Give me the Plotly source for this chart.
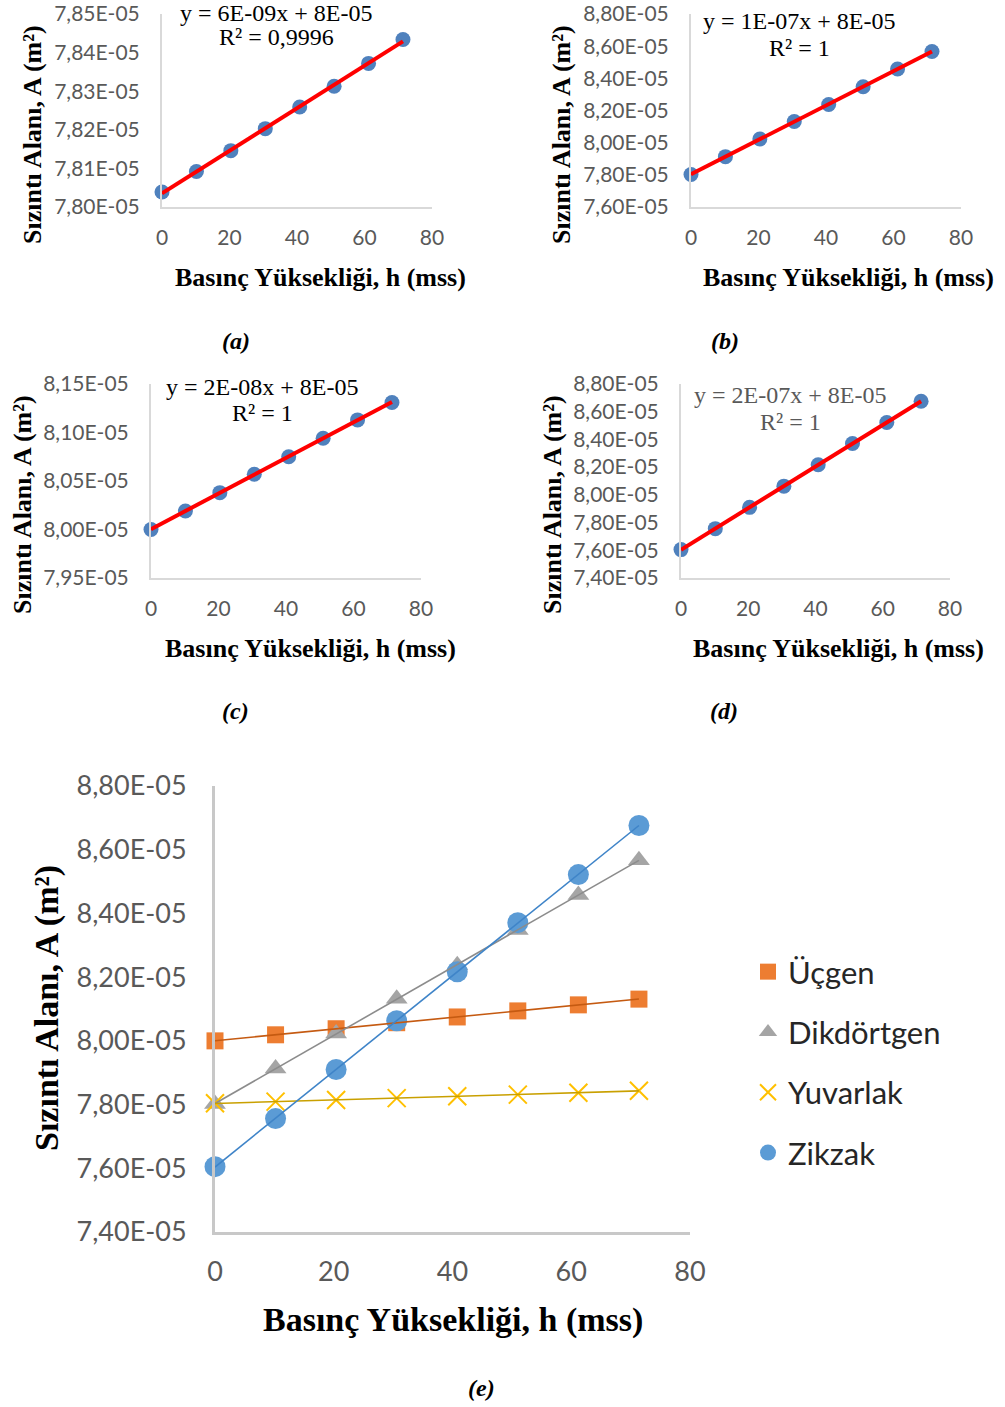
import numpy as np
import plotly.graph_objects as go

W, H = 1005, 1407

# ---------------- data ----------------
h_mss = [0, 10.2, 20.4, 30.6, 40.8, 51.0, 61.2, 71.4]
ucgen = [8.000e-5, 8.019e-5, 8.038e-5, 8.057e-5, 8.075e-5, 8.094e-5, 8.113e-5, 8.131e-5]
dikdortgen = [7.802e-5, 7.913e-5, 8.023e-5, 8.132e-5, 8.237e-5, 8.348e-5, 8.458e-5, 8.567e-5]
yuvarlak = [7.8039e-5, 7.8092e-5, 7.8146e-5, 7.8203e-5, 7.8259e-5, 7.8313e-5, 7.8372e-5, 7.8434e-5]
zikzak = [7.605e-5, 7.756e-5, 7.910e-5, 8.063e-5, 8.217e-5, 8.371e-5, 8.522e-5, 8.676e-5]

series_names = ["Üçgen", "Dikdörtgen", "Yuvarlak", "Zikzak"]

x_ticks = [0, 20, 40, 60, 80]

yt_a = [7.80e-5, 7.81e-5, 7.82e-5, 7.83e-5, 7.84e-5, 7.85e-5]
yl_a = ["7,80E-05", "7,81E-05", "7,82E-05", "7,83E-05", "7,84E-05", "7,85E-05"]
yt_b = [7.60e-5, 7.80e-5, 8.00e-5, 8.20e-5, 8.40e-5, 8.60e-5, 8.80e-5]
yl_b = ["7,60E-05", "7,80E-05", "8,00E-05", "8,20E-05", "8,40E-05", "8,60E-05", "8,80E-05"]
yt_c = [7.95e-5, 8.00e-5, 8.05e-5, 8.10e-5, 8.15e-5]
yl_c = ["7,95E-05", "8,00E-05", "8,05E-05", "8,10E-05", "8,15E-05"]
yt_d = [7.40e-5, 7.60e-5, 7.80e-5, 8.00e-5, 8.20e-5, 8.40e-5, 8.60e-5, 8.80e-5]
yl_d = ["7,40E-05", "7,60E-05", "7,80E-05", "8,00E-05", "8,20E-05", "8,40E-05", "8,60E-05", "8,80E-05"]

eq_a = ["y = 6E-09x + 8E-05", "R² = 0,9996"]
eq_b = ["y = 1E-07x + 8E-05", "R² = 1"]
eq_c = ["y = 2E-08x + 8E-05", "R² = 1"]
eq_d = ["y = 2E-07x + 8E-05", "R² = 1"]

y_title = "Sızıntı Alanı, A (m²)"
x_title = "Basınç Yüksekliği, h (mss)"

# ---------------- helpers ----------------
def px(x):
    return x / W

def py(y):
    return 1 - y / H

def fit_line(xs, ys):
    k, b = np.polyfit(xs, ys, 1)
    xe = [xs[0], xs[-1]]
    return xe, [k * v + b for v in xe]

fig = go.Figure()

AX_LINE = "#D9D9D9"
TICK_FONT = dict(family="Lato", size=21, color="#595959")
SERIF = "Liberation Serif"

small_panels = [
    (yuvarlak, 1, (162, 432), (207, 14), (7.80e-5, 7.85e-5), yt_a, yl_a, eq_a, (276, 13, 37), "#000000"),
    (dikdortgen, 2, (691, 961), (207, 14), (7.60e-5, 8.80e-5), yt_b, yl_b, eq_b, (799, 21, 48), "#000000"),
    (ucgen, 3, (151, 421), (578, 384), (7.95e-5, 8.15e-5), yt_c, yl_c, eq_c, (262, 387, 413), "#000000"),
    (zikzak, 4, (681, 950), (578, 384), (7.40e-5, 8.80e-5), yt_d, yl_d, eq_d, (790, 395, 422), "#595959"),
]

annotations = []

for data, i, (x0, x1), (yb, ytp), yr, ytv, ytl, eq, (ex, e1, e2), ecol in small_panels:
    xa = "x" if i == 1 else f"x{i}"
    ya = "y" if i == 1 else f"y{i}"
    fig.add_trace(go.Scatter(
        x=h_mss, y=data, mode="markers", xaxis=xa, yaxis=ya, showlegend=False,
        marker=dict(color="#4F81BD", size=15), cliponaxis=False,
    ))
    lx, ly = fit_line(h_mss, data)
    fig.add_trace(go.Scatter(
        x=lx, y=ly, mode="lines", xaxis=xa, yaxis=ya, showlegend=False,
        line=dict(color="#FF0000", width=4),
    ))
    xkey = "xaxis" if i == 1 else f"xaxis{i}"
    ykey = "yaxis" if i == 1 else f"yaxis{i}"
    yr_pad = (yr[1] - yr[0]) * 1e-6
    fig.update_layout(**{
        xkey: dict(domain=[px(x0), px(x1)], range=[0, 80], anchor=ya,
                   tickvals=x_ticks, ticktext=[str(v) for v in x_ticks],
                   showline=True, linecolor=AX_LINE, linewidth=2, showgrid=False,
                   zeroline=False, ticks="", tickfont=TICK_FONT, ticklabelstandoff=11,
                   automargin=False, ticklabeloverflow="allow"),
        ykey: dict(domain=[py(yb), py(ytp)], range=[yr[0], yr[1] + yr_pad], anchor=xa,
                   tickvals=ytv, ticktext=ytl,
                   showline=True, linecolor=AX_LINE, linewidth=2, showgrid=False,
                   zeroline=False, ticks="", tickfont=TICK_FONT, ticklabelstandoff=16,
                   automargin=False, ticklabeloverflow="allow"),
    })
    for txt, yy in ((eq[0], e1), (eq[1], e2)):
        annotations.append(dict(x=px(ex), y=py(yy), text=txt,
                                font=dict(family=SERIF, size=24, color=ecol)))

# ---------------- panel e ----------------
e_colors = ["#ED7D31", "#A5A5A5", "#FFC000", "#5B9BD5"]
e_line_colors = ["#C55A11", "#8C8C8C", "#C9A000", "#3F84C8"]
e_symbols = ["square", "triangle-up", "x-thin", "circle"]
e_sizes = [17, 19, 18, 21]
e_data = [ucgen, dikdortgen, yuvarlak, zikzak]

for name, d, c, s, sz in zip(series_names, e_data, e_colors, e_symbols, e_sizes):
    mk = dict(color=c, size=sz, symbol=s)
    if s == "x-thin":
        mk["line"] = dict(color=c, width=2)
    fig.add_trace(go.Scatter(
        x=h_mss, y=d, mode="markers", name=name, xaxis="x5", yaxis="y5",
        marker=mk, cliponaxis=False, legendgroup=name,
    ))
for name, d, lc in zip(series_names, e_data, e_line_colors):
    lx, ly = fit_line(h_mss, d)
    fig.add_trace(go.Scatter(
        x=lx, y=ly, mode="lines", xaxis="x5", yaxis="y5", showlegend=False,
        line=dict(color=lc, width=1.6),
    ))

TICK_FONT_E = dict(family="Lato", size=27, color="#595959")
fig.update_layout(
    xaxis5=dict(domain=[px(215), px(690)], range=[0, 80], anchor="y5",
                tickvals=x_ticks, ticktext=[str(v) for v in x_ticks],
                showline=True, linecolor="#C8C8C8", linewidth=3, showgrid=False,
                zeroline=False, ticks="", tickfont=TICK_FONT_E, ticklabelstandoff=14,
                automargin=False, ticklabeloverflow="allow"),
    yaxis5=dict(domain=[py(1232), py(786)], range=[7.40e-5, 8.80e-5 + 1e-12], anchor="x5",
                tickvals=yt_d, ticktext=yl_d,
                showline=True, linecolor="#C8C8C8", linewidth=3, showgrid=False,
                zeroline=False, ticks="", tickfont=TICK_FONT_E, ticklabelstandoff=20,
                automargin=False, ticklabeloverflow="allow"),
)

# ---------------- titles & captions ----------------
title_font = dict(family=SERIF, size=26, color="#000000")
for (xc, yc) in [(33, 135), (562, 135), (22, 505), (552, 505)]:
    annotations.append(dict(x=px(xc), y=py(yc), text="<b>" + y_title + "</b>",
                            textangle=-90, font=title_font))
for (xc, yc) in [(320, 277), (848, 277), (310, 648), (838, 648)]:
    annotations.append(dict(x=px(xc), y=py(yc), text="<b>" + x_title + "</b>",
                            font=title_font))
title_font_e = dict(family=SERIF, size=34, color="#000000")
annotations.append(dict(x=px(47), y=py(1008), text="<b>" + y_title + "</b>",
                        textangle=-90, font=title_font_e))
annotations.append(dict(x=px(453), y=py(1320), text="<b>" + x_title + "</b>",
                        font=title_font_e))

cap_font = dict(family=SERIF, size=24, color="#000000")
for lab, (xc, yc) in zip(["a", "b", "c", "d", "e"],
                         [(236, 341), (725, 341), (235, 711), (724, 711), (481, 1388)]):
    annotations.append(dict(x=px(xc), y=py(yc), text=f"<b><i>({lab})</i></b>", font=cap_font))

for a in annotations:
    a.update(xref="paper", yref="paper", showarrow=False, xanchor="center", yanchor="middle")

fig.update_layout(
    width=W, height=H,
    margin=dict(l=0, r=0, t=0, b=0, pad=0, autoexpand=False),
    paper_bgcolor="#FFFFFF", plot_bgcolor="#FFFFFF",
    annotations=annotations,
    legend=dict(x=px(748), y=py(945), xanchor="left", yanchor="top",
                font=dict(family="Lato", size=31, color="#262626"),
                tracegroupgap=17, itemsizing="trace", bgcolor="rgba(0,0,0,0)"),
    showlegend=True,
)

fig.write_html("out.html")
